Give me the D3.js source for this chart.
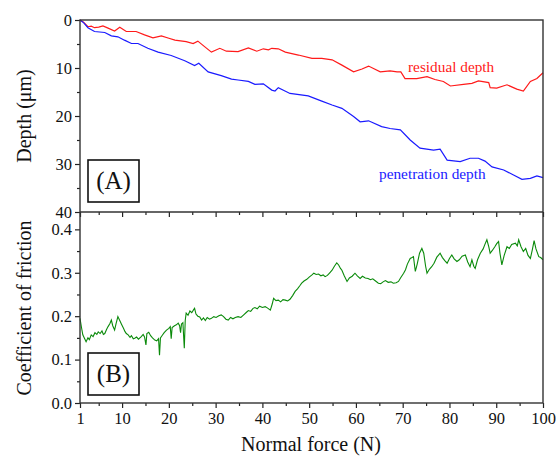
<!DOCTYPE html>
<html><head><meta charset="utf-8">
<script src="https://cdn.jsdelivr.net/npm/d3@7"></script>
<style>
html,body{margin:0;padding:0;background:#fff;}
text{font-family:"Liberation Serif","Times New Roman",serif;}
</style></head>
<body><svg id="c" width="556" height="459"></svg>
<script>
// ---- data ----
const residualForce = [1,1.7,2.7,3.4,4.1,5.0,5.9,7.0,8.4,9.5,10.9,13.0,14.8,16.6,18.4,20.0,21.3,23.7,25.2,26.2,27.7,29.1,30.9,32.3,34.8,37.0,38.8,40.2,41.3,42.0,43.4,44.9,47.7,50.6,52.7,54.9,57.0,59.5,61.3,62.7,65.2,67.3,68.8,69.6,70.5,73.0,75.2,76.9,78.7,80.2,83.0,84.8,86.2,88.4,88.7,90.1,92.3,94.4,95.8,97.3,98.7,100];
const residualDepth = [0,0.4,1.4,1.3,1.6,1.5,1.25,1.7,2.3,1.5,2.4,2.4,3.1,3.7,3.3,3.8,4.2,4.5,4.9,4.4,5.6,6.7,5.9,6.5,6.6,5.8,6.5,6.0,6.2,5.9,6.0,6.7,7.3,8.0,8.0,8.3,9.4,10.8,10.2,9.6,10.8,10.6,10.8,10.8,12.2,12.2,11.8,12.4,12.8,13.75,13.4,13.2,12.7,13.05,14.1,14.2,13.5,14.4,14.8,12.8,12.2,11.0];
const penetrationForce = [1,1.8,2.7,4.1,6.3,7.7,9.1,10.5,12.0,13.4,15.5,17.7,20.5,23.4,25.5,26.4,28.4,31.2,33.4,34.8,37.0,38.4,40.2,42.0,42.7,43.4,45.9,49.8,52.7,54.9,57.0,59.5,60.9,62.7,65.5,67.3,69.5,71.6,73.7,76.6,78.0,79.5,82.3,84.4,86.2,87.6,89.1,91.6,93.7,95.5,97.3,98.7,100];
const penetrationDepth = [0,0.6,1.6,2.4,2.6,3.3,3.5,4.2,4.9,4.9,5.9,6.7,7.4,8.5,9.5,9.0,10.8,11.6,12.3,12.5,12.8,13.4,13.3,14.6,14.8,14.1,15.3,15.8,16.9,17.7,18.4,20.1,21.2,21.0,22.2,22.6,22.9,25.0,26.7,27.1,26.9,29.2,29.5,28.8,28.8,29.4,30.6,31.25,32.3,33.2,33.0,32.5,32.85];
const frictionForce = [1.0,1.3,1.6,2.0,2.3,2.7,3.0,3.4,3.8,4.2,4.6,4.9,5.3,5.7,6.0,6.3,6.7,7.0,7.4,7.7,8.0,8.4,8.7,9.1,9.5,9.9,10.3,10.6,10.9,11.3,11.7,12.0,12.4,12.7,13.1,13.5,14.1,14.5,14.8,15.1,15.3,15.7,16.1,16.5,17.0,17.4,17.8,18.0,18.2,18.6,19.0,19.5,20.0,20.3,20.5,20.7,21.2,21.6,22.0,22.3,22.5,22.7,23.0,23.3,23.5,23.7,24.1,24.5,24.9,25.3,25.5,25.8,26.2,26.6,27.0,27.4,27.8,28.2,28.7,29.1,29.6,30.1,30.7,31.2,31.7,32.2,32.7,33.2,33.7,34.2,34.8,35.4,36.0,36.6,37.0,37.5,38.0,38.4,38.9,39.4,40.0,40.6,41.2,41.7,42.1,42.4,42.9,43.4,43.9,44.4,44.9,45.4,45.9,46.5,47.0,47.5,48.0,48.4,48.9,49.5,50.0,50.6,51.0,51.5,52.0,52.5,53.0,53.4,53.9,54.4,54.9,55.4,55.9,56.3,56.7,57.0,57.5,58.1,58.6,59.2,59.8,60.3,60.9,61.4,62.0,62.6,63.1,63.6,64.2,64.8,65.3,65.8,66.3,66.9,67.5,68.0,68.6,69.1,69.6,70.2,70.6,71.0,71.6,72.0,72.3,72.7,73.1,73.6,74.1,74.5,74.9,75.2,75.7,76.2,76.7,77.3,78.0,78.5,79.0,79.5,80.0,80.5,81.0,81.6,82.1,82.7,83.4,83.9,84.4,84.8,85.2,85.5,86.0,86.6,87.2,87.6,88.0,88.4,88.7,89.2,89.7,90.1,90.5,90.8,91.2,91.7,92.3,92.8,93.3,94.1,94.5,94.8,95.3,95.8,96.3,96.8,97.3,97.7,98.1,98.5,99.1,99.5,100];
const frictionCoef = [0.195,0.175,0.157,0.148,0.141,0.150,0.146,0.157,0.153,0.162,0.158,0.164,0.160,0.166,0.158,0.160,0.170,0.176,0.183,0.191,0.178,0.168,0.182,0.199,0.190,0.181,0.172,0.165,0.160,0.157,0.151,0.155,0.148,0.149,0.152,0.147,0.153,0.158,0.152,0.134,0.160,0.163,0.155,0.150,0.145,0.143,0.148,0.110,0.150,0.156,0.162,0.168,0.172,0.176,0.148,0.174,0.178,0.180,0.184,0.178,0.162,0.182,0.185,0.126,0.190,0.207,0.202,0.212,0.208,0.215,0.218,0.205,0.200,0.198,0.191,0.196,0.190,0.197,0.193,0.195,0.199,0.197,0.201,0.203,0.199,0.193,0.191,0.197,0.194,0.197,0.199,0.197,0.203,0.209,0.213,0.211,0.218,0.220,0.217,0.223,0.220,0.222,0.218,0.214,0.228,0.241,0.236,0.237,0.233,0.238,0.237,0.235,0.239,0.248,0.257,0.263,0.270,0.276,0.281,0.285,0.290,0.295,0.299,0.296,0.297,0.293,0.295,0.291,0.294,0.300,0.306,0.315,0.323,0.318,0.310,0.306,0.293,0.280,0.288,0.292,0.299,0.293,0.287,0.292,0.288,0.287,0.284,0.286,0.281,0.276,0.275,0.279,0.282,0.278,0.279,0.276,0.277,0.280,0.289,0.299,0.307,0.320,0.333,0.335,0.337,0.303,0.320,0.345,0.356,0.345,0.315,0.299,0.308,0.314,0.322,0.336,0.345,0.335,0.328,0.322,0.333,0.341,0.332,0.326,0.330,0.338,0.341,0.325,0.314,0.330,0.315,0.310,0.330,0.345,0.355,0.366,0.376,0.360,0.345,0.352,0.360,0.367,0.372,0.345,0.318,0.340,0.360,0.356,0.365,0.368,0.362,0.376,0.360,0.349,0.356,0.340,0.333,0.352,0.374,0.355,0.337,0.335,0.330];
const xTicks = [1,10,20,30,40,50,60,70,80,90,100];
const xMinor = [5,15,25,35,45,55,65,75,85,95];
const depthTicks = [0,10,20,30,40];
const depthMinor = [5,15,25,35];
const cofTicks = [0,0.1,0.2,0.3,0.4];
const cofMinor = [0.05,0.15,0.25,0.35];

// ---- layout ----
const L=80, R=543, T=20, MID=212, B=403;
const svg = d3.select("#c");
const x = d3.scaleLinear().domain([1,100]).range([L,R]);
const yD = d3.scaleLinear().domain([0,40]).range([T,MID]);
const yC = d3.scaleLinear().domain([0,0.44]).range([B,MID]);
const fs = "16.5px";

function styleAxis(g){
  g.select(".domain").remove();
  g.selectAll("line").attr("stroke","#222").attr("stroke-width",1.2);
  g.selectAll("text").style("font-family",'"Liberation Serif",serif').style("font-size",fs).attr("fill","#111");
}
// top panel x ticks (no labels)
svg.append("g").attr("transform",`translate(0,${MID})`)
  .call(d3.axisBottom(x).tickValues(xTicks).tickSize(5).tickFormat("")).call(styleAxis);
svg.append("g").attr("transform",`translate(0,${MID})`)
  .call(d3.axisBottom(x).tickValues(xMinor).tickSize(3).tickFormat("")).call(styleAxis);
// bottom x axis
svg.append("g").attr("transform",`translate(0,${B})`)
  .call(d3.axisBottom(x).tickValues(xTicks).tickSize(5).tickPadding(4).tickFormat(d3.format("d"))).call(styleAxis);
svg.append("g").attr("transform",`translate(0,${B})`)
  .call(d3.axisBottom(x).tickValues(xMinor).tickSize(3).tickFormat("")).call(styleAxis);
// depth y axis
svg.append("g").attr("transform",`translate(${L},0)`)
  .call(d3.axisLeft(yD).tickValues(depthTicks).tickSize(5).tickPadding(3).tickFormat(d3.format("d"))).call(styleAxis);
svg.append("g").attr("transform",`translate(${L},0)`)
  .call(d3.axisLeft(yD).tickValues(depthMinor).tickSize(3).tickFormat("")).call(styleAxis);
// cof y axis
svg.append("g").attr("transform",`translate(${L},0)`)
  .call(d3.axisLeft(yC).tickValues(cofTicks).tickSize(5).tickPadding(3).tickFormat(d3.format(".1f"))).call(styleAxis);
svg.append("g").attr("transform",`translate(${L},0)`)
  .call(d3.axisLeft(yC).tickValues(cofMinor).tickSize(3).tickFormat("")).call(styleAxis);

// lines
const lineD = (xs, ys) => d3.line().x((d,i)=>x(xs[i])).y(d=>yD(d))(ys);
const lineC = d3.line().x((d,i)=>x(frictionForce[i])).y(d=>yC(d));
svg.append("path").attr("d",lineD(residualForce,residualDepth)).attr("fill","none").attr("stroke","#ff1a1a").attr("stroke-width",1.2);
svg.append("path").attr("d",lineD(penetrationForce,penetrationDepth)).attr("fill","none").attr("stroke","#1a1aff").attr("stroke-width",1.2);
svg.append("path").attr("d",lineC(frictionCoef)).attr("fill","none").attr("stroke","#0a8a0a").attr("stroke-width",1.1);

// frame
const fr = svg.append("g").attr("fill","none").attr("stroke","#333").attr("stroke-width",1.4);
fr.append("rect").attr("x",L).attr("y",T).attr("width",R-L).attr("height",B-T);
fr.append("line").attr("x1",L).attr("x2",R).attr("y1",MID).attr("y2",MID);

// series labels
svg.append("text").attr("x",408).attr("y",72).attr("fill","#ff2020").style("font-size","15.3px").text("residual depth");
svg.append("text").attr("x",379).attr("y",179).attr("fill","#2020ff").style("font-size","15.3px").text("penetration depth");

// panel tags
[["(A)",160],["(B)",353]].forEach(([t,y0])=>{
  svg.append("rect").attr("x",88).attr("y",y0).attr("width",51).attr("height",42).attr("fill","#fff").attr("stroke","#111").attr("stroke-width",1.6);
  svg.append("text").attr("x",113.5).attr("y",y0+29).attr("text-anchor","middle").style("font-size","25px").attr("fill","#111").text(t);
});

// axis titles
svg.append("text").attr("transform","translate(31,116) rotate(-90)").attr("text-anchor","middle").style("font-size","20px").attr("fill","#111").text("Depth (μm)");
svg.append("text").attr("transform","translate(31,308) rotate(-90)").attr("text-anchor","middle").style("font-size","20px").attr("fill","#111").text("Coefficient of friction");
svg.append("text").attr("x",311).attr("y",451).attr("text-anchor","middle").style("font-size","20px").attr("fill","#111").text("Normal force (N)");
</script></body></html>
